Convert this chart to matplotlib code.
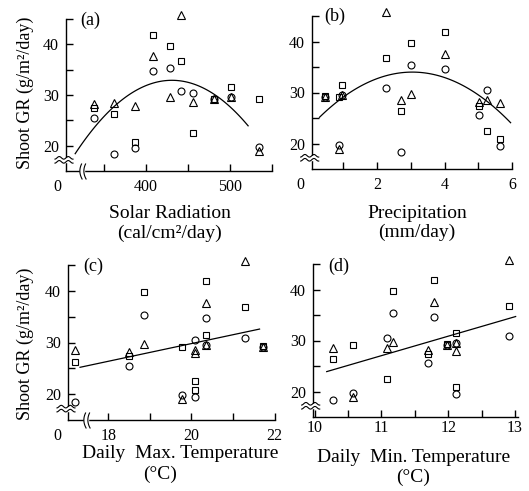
import numpy as np
import matplotlib.pyplot as plt
from matplotlib.lines import Line2D
from matplotlib.patches import Rectangle
from matplotlib.transforms import IdentityTransform

plt.rcParams['font.family'] = ['Liberation Serif', 'DejaVu Serif']

# shoot growth rate (g/m2/day) of three series over ten periods
gr_circle = [25.5, 18.4, 19.5, 34.7, 35.4, 30.8, 30.4, 29.2, 29.6, 19.8]
gr_triangle = [28.2, 28.5, 27.9, 37.6, 29.7, 45.8, 28.6, 29.2, 29.6, 19.0]
gr_square = [27.4, 26.3, 20.8, 41.9, 39.7, 36.8, 22.5, 29.3, 31.5, 29.2]

# weather of the same ten periods
solar = [337, 361, 386, 408, 429, 442, 456, 481, 501, 535]
precip = [5.02, 2.71, 5.64, 4.0, 3.0, 2.27, 5.25, 0.46, 0.97, 0.89]
tmax = [18.5, 17.2, 20.08, 20.34, 18.86, 21.3, 20.08, 21.73, 20.34, 19.78]
tmin = [11.69, 10.28, 12.11, 11.79, 11.17, 12.91, 11.08, 11.98, 12.11, 10.57]

# fitted curves
fit_a = dict(x0=315, x1=522, h=430.8, k=32.9, a=-0.00108)   # quadratic
fit_b = dict(x0=0.31, x1=5.95, h=3.05, k=34.0, a=-1.18)     # quadratic
fit_c = dict(x=[17.32, 21.64], y=[25.2, 32.6])              # linear
fit_d = dict(x=[10.18, 13.01], y=[23.9, 34.7])              # linear

W, H = 529, 491
fig = plt.figure(figsize=(W / 100, H / 100), dpi=100)
TICK_FS = 11.5


def panel(box, xlim, xticks, xlabels, xpad):
    l, r, t, b = box
    ax = fig.add_axes([l / W, 1 - b / H, (r - l) / W, (b - t) / H])
    ax.set_xlim(*xlim)
    ax.set_ylim(15, 45)
    ax.set_xticks(xticks, xlabels)
    ax.set_yticks([20, 25, 30, 35, 40, 45], ['20', '', '30', '', '40', ''])
    ax.tick_params(axis='x', direction='in', length=5, width=1, labelsize=TICK_FS, pad=xpad)
    ax.tick_params(axis='y', direction='in', length=5, width=1, labelsize=TICK_FS, pad=5)
    for s in ('top', 'right'):
        ax.spines[s].set_visible(False)
    for s in ('left', 'bottom'):
        ax.spines[s].set_linewidth(1.0)
    ax.patch.set_alpha(0)
    return ax


def markers(ax, x):
    kw = dict(ls='none', mfc='none', mec='black', mew=0.8, clip_on=False)
    ax.plot(x, gr_circle, 'o', ms=5, **kw)
    ax.plot(x, gr_triangle, '^', ms=5.5, **kw)
    ax.plot(x, gr_square, 's', ms=5, **kw)


def ybreak(ax, yval=17.2):
    x0, y0 = ax.transData.transform((ax.get_xlim()[0], yval))
    fig.add_artist(Rectangle((x0 - 2, y0 - 2), 4, 4, transform=IdentityTransform(),
                             color='white', zorder=3))
    t = np.linspace(-11, 7, 40)
    for dy in (-2.0, 2.0):
        fig.add_artist(Line2D(x0 + t, y0 + dy + 1.3 * np.sin(t * 2 * np.pi / 9),
                              transform=IdentityTransform(), color='k', lw=0.8, zorder=4))


def xbreak(ax, xval):
    x0, y0 = ax.transData.transform((xval, ax.get_ylim()[0]))
    fig.add_artist(Rectangle((x0 - 2, y0 - 2), 4, 4, transform=IdentityTransform(),
                             color='white', zorder=3))
    t = np.linspace(-8, 7, 40)
    for dx in (-2.0, 2.0):
        fig.add_artist(Line2D(x0 + dx + 2.2 * (t / 8) ** 2, y0 + t,
                              transform=IdentityTransform(), color='k', lw=0.8, zorder=4))


def zero(ax, dx):
    ax.annotate('0', xy=(0, 0), xycoords='axes fraction', xytext=(dx, -6),
                textcoords='offset points', ha='center', va='top', fontsize=TICK_FS)


# (a) solar radiation
ax = panel((66, 271.5, 19, 171), (304, 550), [350, 400, 450, 500, 550],
           ['', '400', '', '500', ''], 6)
markers(ax, solar)
xs = np.linspace(fit_a['x0'], fit_a['x1'], 100)
ax.plot(xs, fit_a['a'] * (xs - fit_a['h']) ** 2 + fit_a['k'], color='k', lw=0.9)
ybreak(ax)
xbreak(ax, 323)
zero(ax, -6.5)
ax.text(0.117, 0.99, '(a)', transform=ax.transAxes, ha='center', va='center', fontsize=13)

# (b) precipitation
ax = panel((311.7, 512.3, 16, 169), (0.08, 6.0), [1, 2, 3, 4, 5, 6],
           ['', '2', '', '4', '', '6'], 6)
markers(ax, precip)
xs = np.linspace(fit_b['x0'], fit_b['x1'], 100)
ax.plot(xs, fit_b['a'] * (xs - fit_b['h']) ** 2 + fit_b['k'], color='k', lw=0.9)
ybreak(ax)
zero(ax, -8.5)
ax.text(0.115, 1.0, '(b)', transform=ax.transAxes, ha='center', va='center', fontsize=13)

# (c) daily max temperature
ax = panel((68, 274.5, 265, 420), (17.03, 22.0), [18, 19, 20, 21, 22],
           ['18', '', '20', '', '22'], 6)
markers(ax, tmax)
ax.plot(fit_c['x'], fit_c['y'], color='k', lw=0.9)
ybreak(ax)
xbreak(ax, 17.46)
zero(ax, -8)
ax.text(0.12, 0.99, '(c)', transform=ax.transAxes, ha='center', va='center', fontsize=13)

# (d) daily min temperature
ax = panel((312.7, 518.3, 264, 417), (9.97, 13.05), [10, 10.5, 11, 11.5, 12, 12.5, 13],
           ['10', '', '11', '', '12', '', '13'], 2)
markers(ax, tmin)
ax.plot(fit_d['x'], fit_d['y'], color='k', lw=0.9)
ybreak(ax)
ax.text(0.125, 0.985, '(d)', transform=ax.transAxes, ha='center', va='center', fontsize=13)

# axis titles
ylab = 'Shoot GR (g/m\u00b2/day)'
fig.text(25 / W, 1 - 93 / H, ylab, rotation=90, ha='center', va='center', fontsize=13)
fig.text(25 / W, 1 - 344 / H, ylab, rotation=90, ha='center', va='center', fontsize=13)
fig.text(170 / W, 1 - 213 / H, 'Solar Radiation', ha='center', va='center', fontsize=14)
fig.text(170 / W, 1 - 233 / H, '(cal/cm\u00b2/day)', ha='center', va='center', fontsize=14)
fig.text(417 / W, 1 - 213 / H, 'Precipitation', ha='center', va='center', fontsize=14)
fig.text(417 / W, 1 - 232 / H, '(mm/day)', ha='center', va='center', fontsize=14)
fig.text(180 / W, 1 - 454 / H, 'Daily  Max. Temperature', ha='center', va='center', fontsize=14)
fig.text(160 / W, 1 - 474 / H, '(\u00b0C)', ha='center', va='center', fontsize=14)
fig.text(414 / W, 1 - 457 / H, 'Daily  Min. Temperature', ha='center', va='center', fontsize=14)
fig.text(413 / W, 1 - 477 / H, '(\u00b0C)', ha='center', va='center', fontsize=14)

fig.savefig('out.png', dpi=100)
